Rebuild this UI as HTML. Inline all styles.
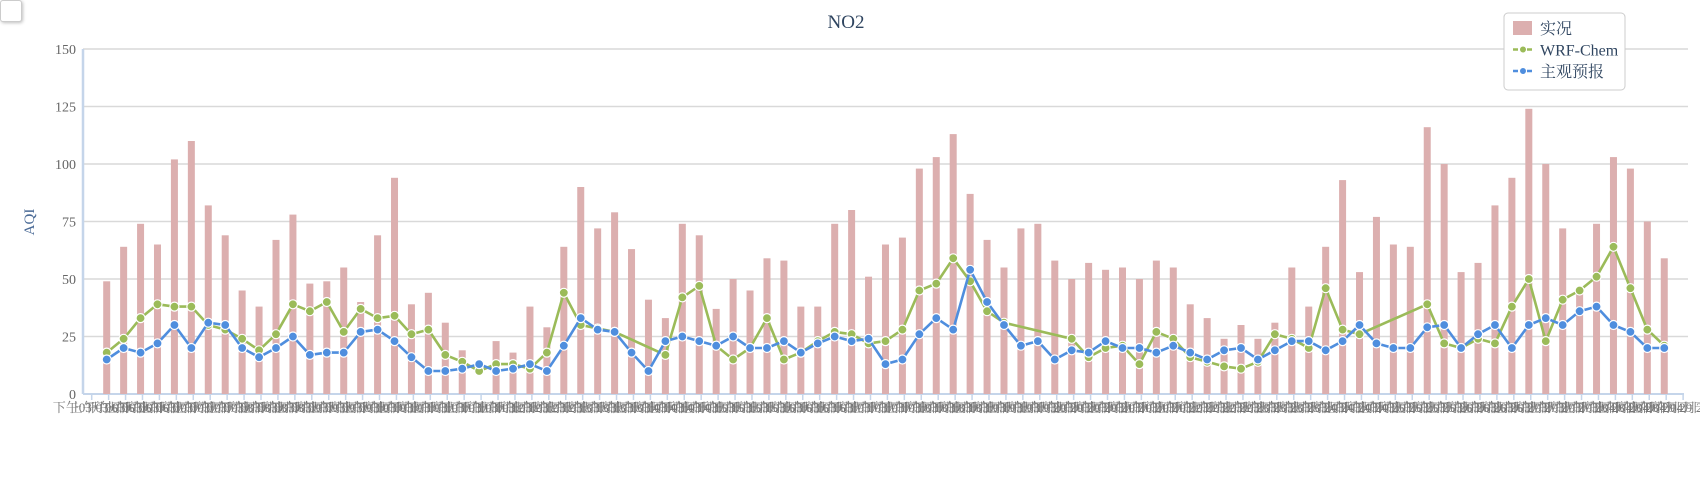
<!DOCTYPE html>
<html><head><meta charset="utf-8">
<style>
html,body{margin:0;padding:0;background:#fff;width:1700px;height:486px;overflow:hidden}
#chk{position:absolute;left:0;top:0;width:20px;height:20px;border:1px solid #ccc;border-radius:3px;box-shadow:1px 1px 3px rgba(0,0,0,.25);background:#fff}
</style></head><body>
<div id="chk"></div>
<svg id="chart" width="1700" height="486" style="position:absolute;left:0;top:0"></svg>
<script>
const categories = Array.from({length:93},(_,i)=>i);
const actualValues = [49,64,74,65,102,110,82,69,45,38,67,78,48,49,55,40,69,94,39,44,31,19,null,23,18,38,29,64,90,72,79,63,41,33,74,69,37,50,45,59,58,38,38,74,80,51,65,68,98,103,113,87,67,55,72,74,58,50,57,54,55,50,58,55,39,33,24,30,24,31,55,38,64,93,53,77,65,64,116,100,53,57,82,94,124,100,72,46,74,103,98,75,59];
const wrfValues = [18,24,33,39,38,38,30,28,24,19,26,39,36,40,27,37,33,34,26,28,17,14,10,13,13,11,18,44,30,28.5,27,null,null,17,42,47,21,15,20,33,15,18,23,27,26,22,23,28,45,48,59,49,36,31,null,null,null,24,16,20,21,13,27,24,16,14,12,11,14,26,24,20,46,28,26,null,null,null,39,22,20,24,22,38,50,23,41,45,51,64,46,28,21];
const subjValues = [15,20,18,22,30,20,31,30,20,16,20,25,17,18,18,27,28,23,16,10,10,11,13,10,11,13,10,21,33,28,27,18,10,23,25,23,21,25,20,20,23,18,22,25,23,24,13,15,26,33,28,54,40,30,21,23,15,19,18,23,20,20,18,21,18,15,19,20,15,19,23,23,19,23,30,22,20,20,29,30,20,26,30,20,30,33,30,36,38,30,27,20,20];
const yTicks = [0,25,50,75,100,125,150];
const dayLabels = ["06","06","07","07","08","08","09","09","10","10","11","11","12","12","13","13","14","14","15","15","16","16","17","17","18","18","19","19","20","20","21","21","22","22","23","23","24","24","25","25","26","26","27","27","28","28","29","29","30","30","31","31","01"];

const NS='http://www.w3.org/2000/svg';
const svg=document.getElementById('chart');
function mk(t,a,p){const e=document.createElementNS(NS,t);for(const k in a)e.setAttribute(k,a[k]);(p||svg).appendChild(e);return e;}
const X0=83,X1=1688,Y0=394,Y150=49;
const y=v=>Y0-(v/150)*(Y0-Y150);
const x=i=>106.7+i*16.93;

let g=mk('g',{});

yTicks.forEach(t=>{
  if(t>0){const l=mk('line',{x1:X0,x2:X1,y1:y(t),y2:y(t),stroke:'#d9d9d9','stroke-width':1.5},g);
  }
  const tx=mk('text',{x:76,y:y(t)+5,'text-anchor':'end','font-size':14,fill:'#666','font-family':'Liberation Serif, serif'});
  tx.textContent=t;
  
});
let ax=mk('line',{x1:X0,x2:X0,y1:Y150,y2:Y0,stroke:'#c5d5ea','stroke-width':2.5});

let bx=mk('line',{x1:X0,x2:1684,y1:Y0,y2:Y0,stroke:'#c5d5ea','stroke-width':2});


// x ticks & labels
let xl=mk('g',{});

for(let k=0;91.7+k*16.93<=1684;k++){
  const tx0=91.7+k*16.93;
  const tk=mk('line',{x1:tx0,x2:tx0,y1:Y0,y2:Y0+6,stroke:'#c5d5ea','stroke-width':1.5},xl);
  
  const d=dayLabels[Math.floor(k/2)%dayLabels.length];
  const m=k>=90?'04':'03';
  const t=mk('text',{x:tx0,y:412,'text-anchor':'middle','font-size':13,fill:'#777','font-family':'Liberation Serif, Noto Serif CJK SC, serif'},xl);
  t.textContent=(k%2?'上午':'下午')+m+'月'+d+'日';
  
}

// bars
let bg=mk('g',{});

actualValues.forEach((v,i)=>{
  if(v==null)return;
  const r=mk('rect',{x:x(categories[i])-3.5,y:y(v),width:7,height:Y0-y(v),fill:'#dcafaf'},bg);
  
});

function series(vals,color,name){
  const sg=mk('g',{});
  
  const pts=[];vals.forEach((v,i)=>{if(v!=null)pts.push([x(categories[i]),y(v)]);});
  const p=mk('polyline',{points:pts.map(q=>q.join(',')).join(' '),fill:'none',stroke:color,'stroke-width':2.6,'stroke-linejoin':'round'},sg);
  
  pts.forEach(q=>{const c=mk('circle',{cx:q[0],cy:q[1],r:4.5,fill:color,stroke:'#fff','stroke-width':1.2},sg);
    });
}
series(wrfValues,'#9bbb59','wrf-chem');
series(subjValues,'#4f8ede','subjective-forecast');

// title
const ti=mk('text',{x:846,y:28,'text-anchor':'middle','font-size':19,fill:'#2f4560','font-family':'Liberation Serif, serif'});
ti.textContent='NO2';
const yt=mk('text',{x:34,y:222,'text-anchor':'middle','font-size':15,fill:'#4a6a96','font-family':'Liberation Serif, serif',transform:'rotate(-90 34 222)'});
yt.textContent='AQI';

// legend
const lg=mk('g',{});

mk('rect',{x:1504,y:13,width:121,height:77,rx:4,fill:'#fff',stroke:'#ccc','stroke-width':1},lg);
const le=[['实况','bar'],['WRF-Chem','#9bbb59'],['主观预报','#4f8ede']];
le.forEach((e,i)=>{
  const cy=28+i*21.5;
  const it=mk('g',{},lg);
  
  if(e[1]==='bar'){mk('rect',{x:1513,y:cy-7,width:19,height:14,fill:'#dcafaf'},it);}
  else{mk('line',{x1:1513,x2:1533,y1:cy,y2:cy,stroke:e[1],'stroke-width':2.5,'stroke-dasharray':'5,2'},it);
       mk('circle',{cx:1523,cy:cy,r:3.5,fill:e[1],stroke:'#fff','stroke-width':1},it);}
  const t=mk('text',{x:1540,y:cy+6,'font-size':16,fill:'#2f4560','font-family':'Liberation Serif, Noto Serif CJK SC, serif'},it);
  t.textContent=e[0];
});
</script>
</body></html>
